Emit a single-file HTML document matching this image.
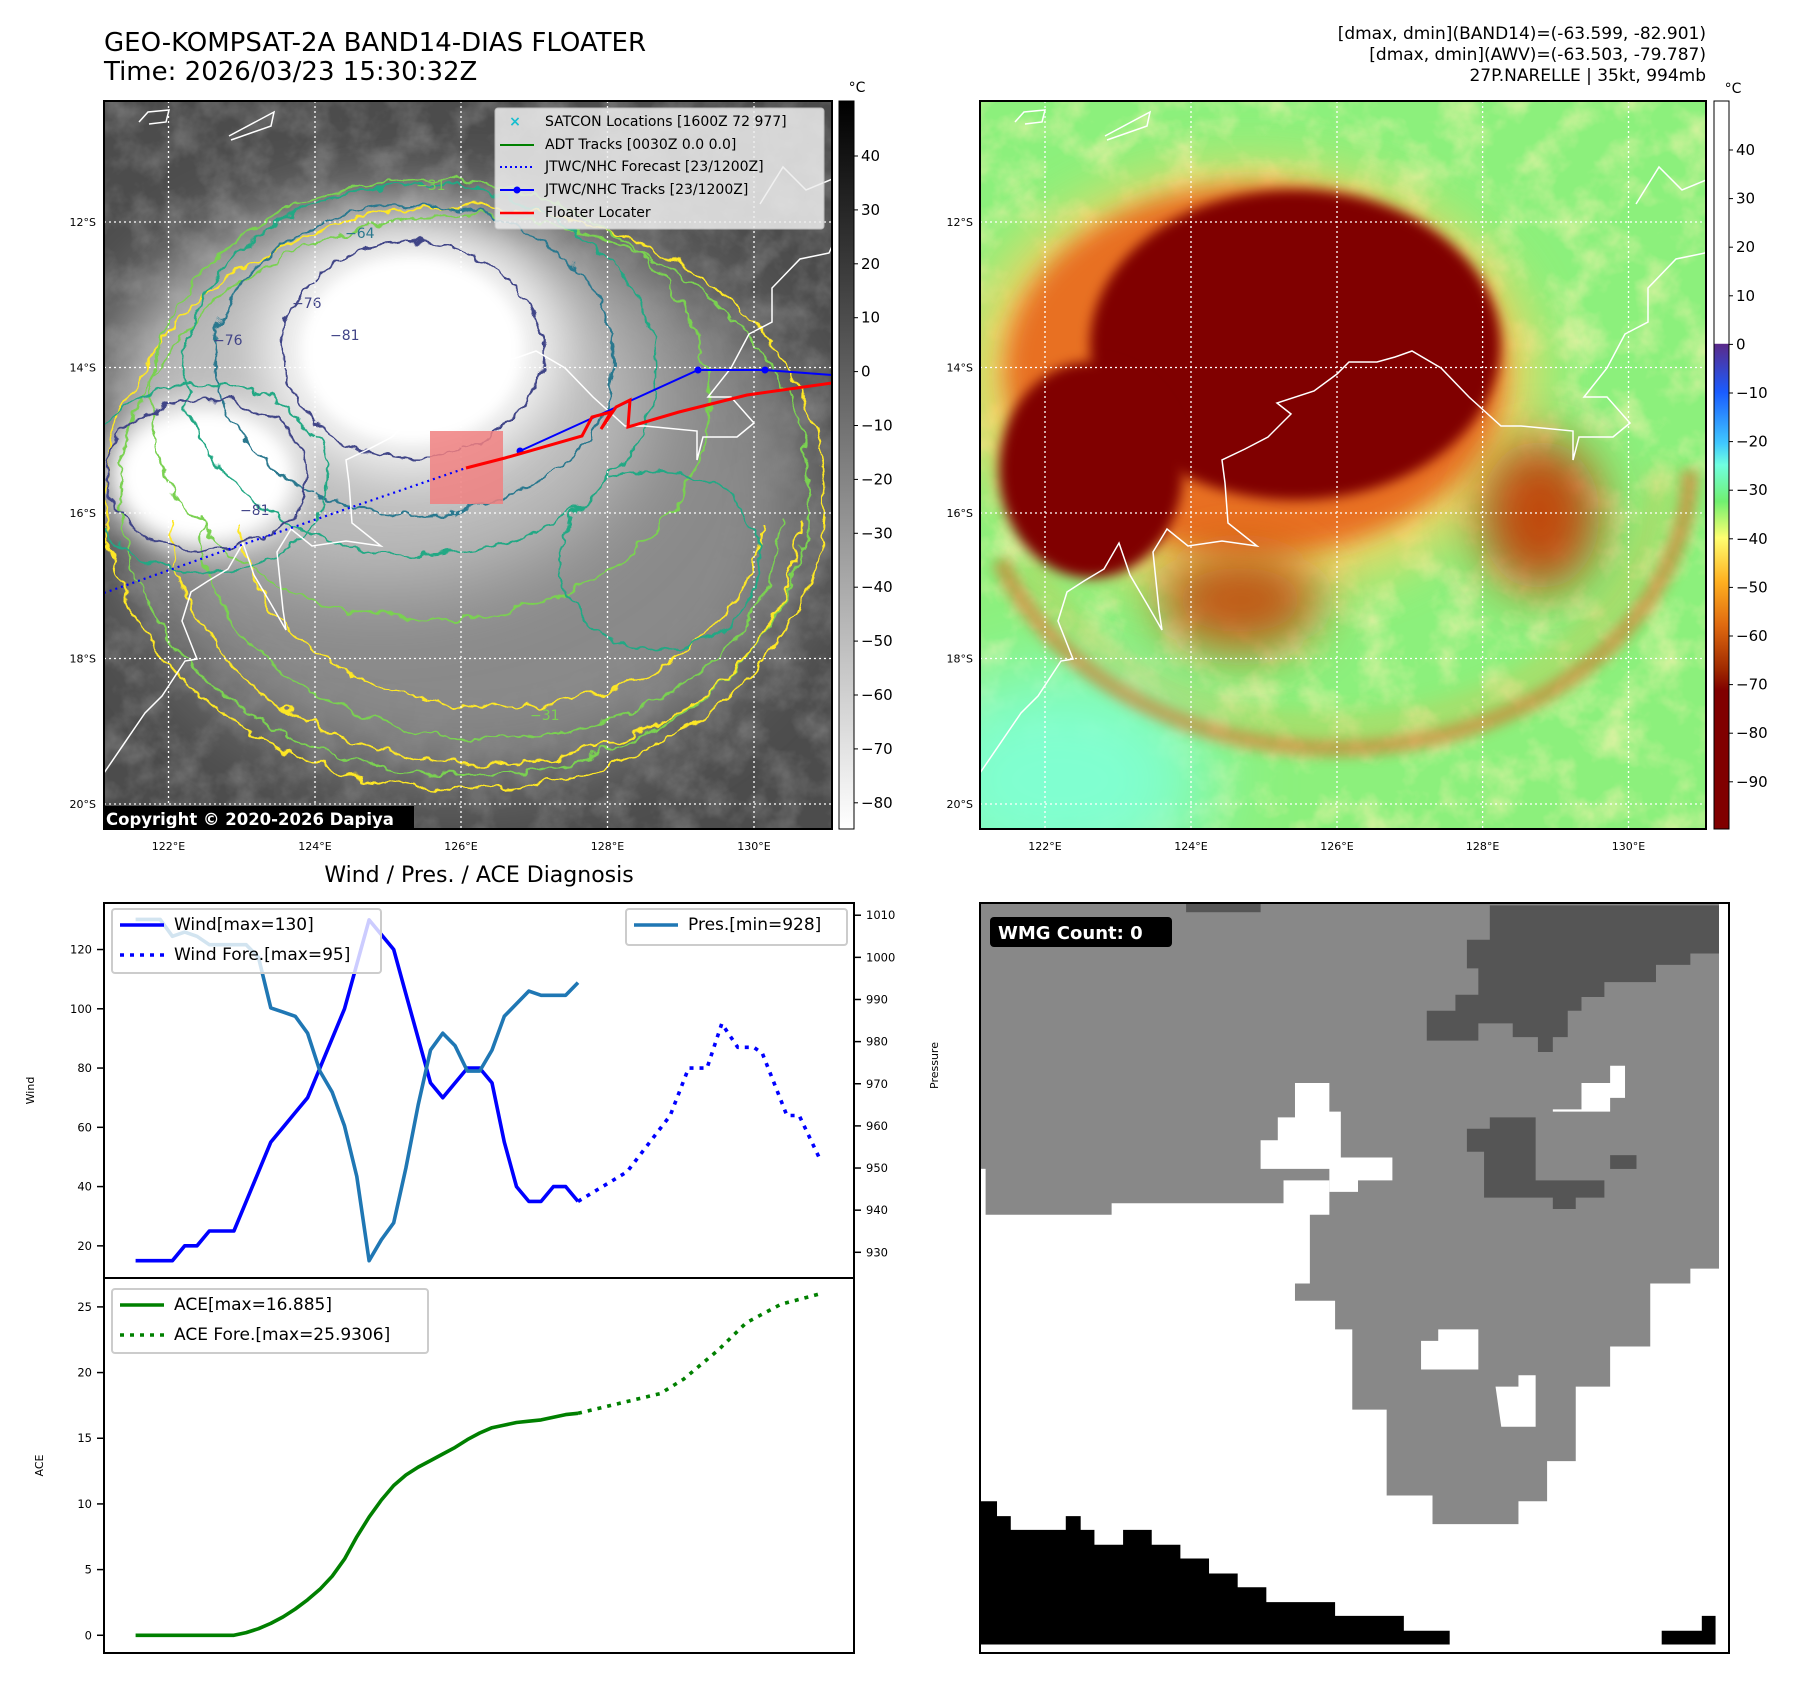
<!DOCTYPE html>
<html><head><meta charset="utf-8">
<style>
html,body{margin:0;padding:0;background:#fff;}
svg{display:block;font-family:"DejaVu Sans","Liberation Sans",sans-serif;}
</style></head>
<body>
<svg id="root" width="1797" height="1690" viewBox="0 0 1797 1690" xmlns="http://www.w3.org/2000/svg">
<defs>
  <clipPath id="clipL"><rect x="104" y="101" width="728" height="728"/></clipPath>
  <clipPath id="clipR"><rect x="980" y="101" width="726" height="728"/></clipPath>
  <filter id="b40" x="-50%" y="-50%" width="200%" height="200%"><feGaussianBlur stdDeviation="40"/></filter>
  <filter id="b25" x="-50%" y="-50%" width="200%" height="200%"><feGaussianBlur stdDeviation="25"/></filter>
  <filter id="b12" x="-50%" y="-50%" width="200%" height="200%"><feGaussianBlur stdDeviation="12"/></filter>
  <filter id="b6" x="-50%" y="-50%" width="200%" height="200%"><feGaussianBlur stdDeviation="6"/></filter>
  <filter id="wig" x="-20%" y="-20%" width="140%" height="140%">
    <feTurbulence type="fractalNoise" baseFrequency="0.045" numOctaves="3" seed="4" result="n"/>
    <feDisplacementMap in="SourceGraphic" in2="n" scale="18" xChannelSelector="R" yChannelSelector="G"/>
  </filter>
  <filter id="noiseG" x="0" y="0" width="100%" height="100%">
    <feTurbulence type="fractalNoise" baseFrequency="0.03" numOctaves="4" seed="2"/>
    <feColorMatrix type="matrix" values="0 0 0 0 1  0 0 0 0 1  0 0 0 0 1  1.2 0 0 0 -0.45"/>
  </filter>
  <filter id="noiseY" x="0" y="0" width="100%" height="100%">
    <feTurbulence type="fractalNoise" baseFrequency="0.025" numOctaves="4" seed="7"/>
    <feColorMatrix type="matrix" values="0 0 0 0 1  0 0 0 0 0.9  0 0 0 0 0.45  1.6 0 0 0 -0.7"/>
  </filter>
  <linearGradient id="grayBar" x1="0" y1="0" x2="0" y2="1">
    <stop offset="0" stop-color="#000"/><stop offset="1" stop-color="#fff"/>
  </linearGradient>
  <linearGradient id="colBar" x1="0" y1="0" x2="0" y2="1">
    <stop offset="0" stop-color="#fff"/><stop offset="0.333" stop-color="#fff"/>
    <stop offset="0.334" stop-color="#5a2a8a"/>
    <stop offset="0.40" stop-color="#1a5cff"/>
    <stop offset="0.47" stop-color="#40c8ff"/>
    <stop offset="0.50" stop-color="#70ffe0"/>
    <stop offset="0.55" stop-color="#70f070"/>
    <stop offset="0.60" stop-color="#ffff70"/>
    <stop offset="0.66" stop-color="#ffb020"/>
    <stop offset="0.72" stop-color="#e06a10"/>
    <stop offset="0.78" stop-color="#a02a00"/>
    <stop offset="0.81" stop-color="#800000"/>
    <stop offset="1" stop-color="#800000"/>
  </linearGradient>
</defs>

<!-- Titles -->
<text x="104" y="51" font-size="26">GEO-KOMPSAT-2A BAND14-DIAS FLOATER</text>
<text x="104" y="80" font-size="26">Time: 2026/03/23 15:30:32Z</text>
<g font-size="17" text-anchor="end">
  <text x="1706" y="39">[dmax, dmin](BAND14)=(-63.599, -82.901)</text>
  <text x="1706" y="60">[dmax, dmin](AWV)=(-63.503, -79.787)</text>
  <text x="1706" y="81">27P.NARELLE | 35kt, 994mb</text>
</g>

<!-- LEFT MAP -->
<g clip-path="url(#clipL)">
  <rect x="104" y="101" width="728" height="728" fill="#4c4c4c"/>
  <rect x="104" y="101" width="728" height="728" filter="url(#noiseG)" opacity="0.35"/>
  <ellipse cx="465" cy="498" rx="345" ry="280" fill="#8a8a8a" filter="url(#b40)"/>
  <ellipse cx="380" cy="400" rx="270" ry="190" fill="#bdbdbd" filter="url(#b40)"/>
  <ellipse cx="412" cy="350" rx="150" ry="125" fill="#f4f4f4" filter="url(#b25)"/>
  <ellipse cx="412" cy="350" rx="110" ry="92" fill="#fff" filter="url(#b6)"/>
  <ellipse cx="206" cy="475" rx="100" ry="78" fill="#eee" filter="url(#b12)"/>
  <ellipse cx="206" cy="475" rx="82" ry="60" fill="#fff" filter="url(#b6)"/>
  <g fill="none" stroke-width="2" filter="url(#wig)">
    <ellipse cx="465" cy="498" rx="360" ry="292" stroke="#fde725"/>
    <ellipse cx="465" cy="495" rx="345" ry="280" stroke="#7ad151"/>
    <path d="M170,520 A310,240 0 0,0 800,520" stroke="#fde725"/>
    <path d="M200,520 A285,215 0 0,0 780,520" stroke="#7ad151"/>
    <path d="M240,520 A250,180 0 0,0 760,520" stroke="#fde725"/>
    <ellipse cx="430" cy="400" rx="280" ry="220" stroke="#7ad151"/>
    <ellipse cx="420" cy="370" rx="235" ry="185" stroke="#22a884"/>
    <ellipse cx="415" cy="360" rx="200" ry="155" stroke="#2a788e"/>
    <ellipse cx="660" cy="560" rx="100" ry="90" stroke="#22a884"/>
    <ellipse cx="206" cy="478" rx="122" ry="95" stroke="#22a884"/>
    <ellipse cx="412" cy="350" rx="130" ry="108" stroke="#414487"/>
    <ellipse cx="206" cy="475" rx="100" ry="76" stroke="#414487"/>
  </g>
  <g font-size="14">
    <text x="345" y="238" fill="#2a788e">−64</text>
    <text x="292" y="308" fill="#414487">−76</text>
    <text x="213" y="345" fill="#414487">−76</text>
    <text x="330" y="340" fill="#414487">−81</text>
    <text x="240" y="515" fill="#414487">−81</text>
    <text x="416" y="190" fill="#7ad151">−31</text>
    <text x="530" y="720" fill="#7ad151">−31</text>
  </g>
  <g transform="translate(-876,0)"><use href="#coast"/></g>
  <g stroke="#fff" stroke-width="1.3" stroke-dasharray="2,3">
    <line x1="168.5" y1="101" x2="168.5" y2="829"/><line x1="315" y1="101" x2="315" y2="829"/><line x1="461" y1="101" x2="461" y2="829"/><line x1="607.5" y1="101" x2="607.5" y2="829"/><line x1="754" y1="101" x2="754" y2="829"/>
    <line x1="104" y1="222" x2="832" y2="222"/><line x1="104" y1="367.5" x2="832" y2="367.5"/><line x1="104" y1="513" x2="832" y2="513"/><line x1="104" y1="658.5" x2="832" y2="658.5"/><line x1="104" y1="804" x2="832" y2="804"/>
  </g>
  <rect x="430" y="431" width="73" height="73" fill="#f08080" opacity="0.85"/>
  <polyline points="104,593 215,554 466,468" fill="none" stroke="#0000ff" stroke-width="2.2" stroke-dasharray="2,4"/>
  <polyline points="520,451 698,370 765,370 832,375" fill="none" stroke="#0000ff" stroke-width="2"/>
  <g fill="#0000ff"><circle cx="520" cy="451" r="3.5"/><circle cx="698" cy="370" r="3.5"/><circle cx="765" cy="370" r="3.5"/></g>
  <polyline points="466,468 505,458 582,436 592,417 611,412 601,429 616,407 630,400 628,427 679,412 747,395 832,383" fill="none" stroke="#ff0000" stroke-width="3"/>
  <rect x="101" y="806" width="313" height="25" fill="#000"/>
  <text x="106" y="825" font-size="16.5" font-weight="bold" fill="#fff">Copyright © 2020-2026 Dapiya</text>
</g>
<rect x="104" y="101" width="728" height="728" fill="none" stroke="#000" stroke-width="2"/>
<g>
  <rect x="495" y="108" width="329" height="121" rx="3" fill="#eee" opacity="0.85" stroke="#ccc"/>
  <text x="515" y="126" font-size="14" fill="#17becf" text-anchor="middle" font-weight="bold">×</text>
  <line x1="500" y1="145" x2="534" y2="145" stroke="#008000" stroke-width="2"/>
  <line x1="500" y1="167" x2="534" y2="167" stroke="#0000ff" stroke-width="2" stroke-dasharray="2,3"/>
  <line x1="500" y1="190" x2="534" y2="190" stroke="#0000ff" stroke-width="2"/><circle cx="517" cy="190" r="3.5" fill="#0000ff"/>
  <line x1="500" y1="213" x2="534" y2="213" stroke="#ff0000" stroke-width="2.5"/>
  <g font-size="14">
    <text x="545" y="126">SATCON Locations [1600Z 72 977]</text>
    <text x="545" y="149">ADT Tracks [0030Z 0.0 0.0]</text>
    <text x="545" y="171">JTWC/NHC Forecast [23/1200Z]</text>
    <text x="545" y="194">JTWC/NHC Tracks [23/1200Z]</text>
    <text x="545" y="217">Floater Locater</text>
  </g>
</g>
<g font-size="11" text-anchor="end">
  <text x="96" y="226">12°S</text><text x="96" y="371.5">14°S</text><text x="96" y="517">16°S</text><text x="96" y="662.5">18°S</text><text x="96" y="808">20°S</text>
</g>
<g font-size="11" text-anchor="middle">
  <text x="168.5" y="850">122°E</text><text x="315" y="850">124°E</text><text x="461" y="850">126°E</text><text x="607.5" y="850">128°E</text><text x="754" y="850">130°E</text>
</g>
<g>
  <rect x="839" y="101" width="15" height="728" fill="url(#grayBar)" stroke="#000" stroke-width="1"/>
  <text x="857" y="92" font-size="14" text-anchor="middle">°C</text>
  <g id="cbL" font-size="15"></g>
</g>

<!-- RIGHT MAP -->
<g clip-path="url(#clipR)">
  <rect x="980" y="101" width="726" height="728" fill="#8cf07c"/>
  <rect x="980" y="101" width="726" height="728" filter="url(#noiseY)" opacity="0.85"/>
  <ellipse cx="1060" cy="780" rx="150" ry="110" fill="#80ffd0" filter="url(#b40)"/>
  <path d="M1000,560 A355,281 0 0,0 1690,470" fill="none" stroke="#d8702a" stroke-width="18" filter="url(#b6)" opacity="0.6"/>
  <path d="M1030,560 A325,255 0 0,0 1660,470" fill="none" stroke="#f0b040" stroke-width="14" filter="url(#b12)" opacity="0.5"/>
  <ellipse cx="1250" cy="380" rx="290" ry="215" fill="#ffd060" filter="url(#b25)" opacity="0.8"/>
  <ellipse cx="1255" cy="370" rx="250" ry="185" fill="#e87020" filter="url(#b12)"/>
  <ellipse cx="1540" cy="515" rx="60" ry="75" fill="#c04a10" filter="url(#b25)"/>
  <ellipse cx="1240" cy="600" rx="80" ry="50" fill="#c05a18" filter="url(#b25)"/>
  <ellipse cx="1295" cy="345" rx="205" ry="155" fill="#800000" filter="url(#b6)"/>
  <ellipse cx="1091" cy="470" rx="92" ry="108" fill="#800000" filter="url(#b6)"/>
  <g id="coast" fill="none" stroke="#fff" stroke-width="1.5">
    <polyline points="980,773 1021,713 1038,696 1061,661 1073,659 1058,621 1067,592 1084,581 1104,569 1119,543 1130,575 1147,604 1162,630 1159,610 1153,552 1167,529 1188,546 1222,541 1257,546 1228,523 1225,483 1222,460 1245,449 1268,437 1291,414 1277,403 1314,391 1337,374 1349,362 1377,362 1395,357 1412,351 1441,368 1469,397 1501,426 1521,426 1573,431 1573,460 1579,437 1613,437 1630,423 1607,397 1584,397 1607,368 1625,334 1648,322 1648,288 1676,259 1705,253 1710,242"/>
    <polyline points="1636,204 1659,167 1682,190 1711,178"/>
    <polyline points="1015,122 1024,112 1045,110 1042,122 1025,124"/>
    <polyline points="1107,140 1147,126 1150,112 1105,136"/>
  </g>
  <g stroke="#fff" stroke-width="1.3" stroke-dasharray="2,3">
    <line x1="1045" y1="101" x2="1045" y2="829"/><line x1="1191" y1="101" x2="1191" y2="829"/><line x1="1337" y1="101" x2="1337" y2="829"/><line x1="1482.6" y1="101" x2="1482.6" y2="829"/><line x1="1628.5" y1="101" x2="1628.5" y2="829"/>
    <line x1="980" y1="222" x2="1706" y2="222"/><line x1="980" y1="367.5" x2="1706" y2="367.5"/><line x1="980" y1="513" x2="1706" y2="513"/><line x1="980" y1="658.5" x2="1706" y2="658.5"/><line x1="980" y1="804" x2="1706" y2="804"/>
  </g>
</g>
<rect x="980" y="101" width="726" height="728" fill="none" stroke="#000" stroke-width="2"/>
<g font-size="11" text-anchor="end">
  <text x="973" y="226">12°S</text><text x="973" y="371.5">14°S</text><text x="973" y="517">16°S</text><text x="973" y="662.5">18°S</text><text x="973" y="808">20°S</text>
</g>
<g font-size="11" text-anchor="middle">
  <text x="1045" y="850">122°E</text><text x="1191" y="850">124°E</text><text x="1337" y="850">126°E</text><text x="1482.6" y="850">128°E</text><text x="1628.5" y="850">130°E</text>
</g>
<g>
  <rect x="1714" y="101" width="15" height="728" fill="url(#colBar)" stroke="#000" stroke-width="1"/>
  <text x="1733" y="93" font-size="14" text-anchor="middle">°C</text>
  <g id="cbR" font-size="15"></g>
</g>

<!-- BOTTOM RIGHT PANEL -->
<g>
  <rect x="980" y="903" width="749" height="750" fill="#fff"/>
  <g transform="scale(1.146)">
    <polygon fill="#888" points="855,788 1500,788 1500,1107 1475,1107 1475,1120 1440,1120 1440,1175 1405,1175 1405,1210 1375,1210 1375,1275 1350,1275 1350,1310 1325,1310 1325,1330 1250,1330 1250,1305 1210,1305 1210,1230 1180,1230 1180,1160 1165,1160 1165,1135 1130,1135 1130,1120 1143,1120 1143,1060 1160,1060 1160,1030 1120,1030 1120,1050 970,1050 970,1060 860,1060 860,1020 855,1020"/>
    <g fill="#fff">
      <polygon points="1100,1020 1100,995 1115,995 1115,975 1130,975 1130,945 1160,945 1160,970 1170,970 1170,1010 1215,1010 1215,1030 1185,1030 1185,1040 1160,1040 1160,1020"/>
      <polygon points="1355,968 1380,968 1380,945 1405,945 1405,930 1418,930 1418,958 1405,958 1405,970 1355,970"/>
      <polygon points="1240,1170 1255,1170 1255,1160 1290,1160 1290,1195 1240,1195"/>
      <polygon points="1305,1210 1325,1210 1325,1200 1340,1200 1340,1245 1310,1245"/>
      <rect x="855" y="1020" width="5" height="40"/>
    </g>
    <g fill="#555">
      <polygon points="1280,820 1300,820 1300,790 1500,790 1500,832 1475,832 1475,842 1445,842 1445,857 1400,857 1400,870 1380,870 1380,882 1368,882 1368,905 1355,905 1355,918 1342,918 1342,905 1320,905 1320,893 1290,893 1290,908 1245,908 1245,882 1270,882 1270,868 1290,868 1290,845 1280,845"/>
      <polygon points="1280,985 1300,985 1300,975 1340,975 1340,1030 1400,1030 1400,1045 1375,1045 1375,1055 1355,1055 1355,1045 1295,1045 1295,1005 1280,1005"/>
      <rect x="1405" y="1008" width="23" height="12"/>
      <rect x="1035" y="788" width="65" height="8"/>
    </g>
    <g fill="#000">
      <polygon points="855,1310 870,1310 870,1323 882,1323 882,1335 930,1335 930,1323 943,1323 943,1335 955,1335 955,1348 980,1348 980,1335 1005,1335 1005,1348 1030,1348 1030,1360 1055,1360 1055,1373 1080,1373 1080,1385 1105,1385 1105,1398 1165,1398 1165,1410 1225,1410 1225,1423 1265,1423 1265,1435 855,1435"/>
      <polygon points="1450,1423 1485,1423 1485,1410 1497,1410 1497,1435 1450,1435"/>
    </g>
  </g>
  <rect x="980" y="903" width="749" height="750" fill="none" stroke="#000" stroke-width="2"/>
  <rect x="990" y="917" width="182" height="30" rx="4" fill="#000"/>
  <text x="998" y="939" font-size="18" font-weight="bold" fill="#fff">WMG Count: 0</text>
</g>

<!-- BOTTOM LEFT CHART -->
<text x="479" y="882" font-size="22" text-anchor="middle">Wind / Pres. / ACE Diagnosis</text>
<g id="chart"></g>
</svg>

<script>
// ---- chart data ----
const windIdx = [0,1,2,3,4,5,6,7,8,9,10,11,12,13,14,15,16,17,18,19,20,21,22,23,24,25,26,27,28,29,30,31,32,33,34,35,36];
const windObs = [15,15,15,15,20,20,25,25,25,35,45,55,60,65,70,80,90,100,115,130,125,120,105,90,75,70,75,80,80,75,55,40,35,35,40,40,35];
const presObs = [1009,1009,1009,1005,1006,1005,1003,1003,1003,1003,1000,988,987,986,982,973,968,960,948,928,933,937,950,965,978,982,979,973,973,978,986,989,992,991,991,991,994];
const fcstIdx = [36,40,43.5,45,46.5,47.7,49,50.3,51,53,54,55.6];
const windFcst = [35,45,64,80,80,95,87,87,85,64,64,50];
const aceObs = [0,0,0,0,0,0,0,0,0,0.2,0.5,0.9,1.4,2.0,2.7,3.5,4.5,5.8,7.5,9.0,10.3,11.4,12.2,12.8,13.3,13.8,14.3,14.9,15.4,15.8,16.0,16.2,16.3,16.4,16.6,16.8,16.9];
const aceFcstIdx = [36,40,42.7,44.6,47.4,49.7,52.5,55.7];
const aceFcst = [16.9,17.8,18.4,19.5,21.7,23.8,25.2,26.0];
const windTicks = [20,40,60,80,100,120];
const presTicks = [930,940,950,960,970,980,990,1000,1010];
const aceTicks = [0,5,10,15,20,25];
const grayCbTicks = [40,30,20,10,0,-10,-20,-30,-40,-50,-60,-70,-80];
const colorCbTicks = [40,30,20,10,0,-10,-20,-30,-40,-50,-60,-70,-80,-90];

const NS = "http://www.w3.org/2000/svg";
const L = 104, R = 854, T = 903, M = 1278, B = 1653;
const xMin = -2.57, xMax = 58.46;
function x(i){ return L + (i - xMin) / (xMax - xMin) * (R - L); }
function yW(v){ return T + (135.7 - v) / (135.7 - 9.15) * (M - T); }
function yP(v){ return T + (1012.9 - v) / (1012.9 - 923.9) * (M - T); }
function yA(v){ return M + (27.2 - v) / (27.2 + 1.35) * (B - M); }
function mk(tag, attrs, parent){
  const e = document.createElementNS(NS, tag);
  for (const k in attrs) e.setAttribute(k, attrs[k]);
  parent.appendChild(e); return e;
}
const chart = document.getElementById('chart');
function line(xs, ys, fx, fy, color, dash, name){
  const pts = xs.map((v, k) => fx(v).toFixed(1) + ',' + fy(ys[k]).toFixed(1)).join(' ');
  const p = mk('polyline', {points: pts, fill: 'none', stroke: color, 'stroke-width': 3.6, 'stroke-linejoin': 'round'}, chart);
  if (dash) p.setAttribute('stroke-dasharray', dash);
  
  
}
line(windIdx, windObs, x, yW, '#0000ff', null, 'wind-line');
line(fcstIdx, windFcst, x, yW, '#0000ff', '4,6', 'wind-forecast-line');
line(windIdx, presObs, x, yP, '#1f77b4', null, 'pressure-line');
line(windIdx, aceObs, x, yA, '#008000', null, 'ace-line');
line(aceFcstIdx, aceFcst, x, yA, '#008000', '4,6', 'ace-forecast-line');

const f1 = mk('rect', {x: L, y: T, width: R - L, height: M - T, fill: 'none', stroke: '#000', 'stroke-width': 2}, chart);


const f2 = mk('rect', {x: L, y: M, width: R - L, height: B - M, fill: 'none', stroke: '#000', 'stroke-width': 2}, chart);



function ticks(vals, fy, side, name){
  vals.forEach(v => {
    const yy = fy(v);
    if (side === 'left'){
      mk('line', {x1: L - 7, y1: yy, x2: L, y2: yy, stroke: '#000', 'stroke-width': 1.5}, chart);
      const t = mk('text', {x: L - 12, y: yy + 4, 'font-size': 11.5, 'text-anchor': 'end'}, chart);
      t.textContent = v;
      
      
    } else {
      mk('line', {x1: R, y1: yy, x2: R + 7, y2: yy, stroke: '#000', 'stroke-width': 1.5}, chart);
      const t = mk('text', {x: R + 12, y: yy + 4, 'font-size': 11.5}, chart);
      t.textContent = v;
      
      
    }
  });
}
ticks(windTicks, yW, 'left', 'wind-tick-label');
ticks(presTicks, yP, 'right', 'pressure-tick-label');
ticks(aceTicks, yA, 'left', 'ace-tick-label');

function vlabel(txt, xx, yy, name){
  const t = mk('text', {x: xx, y: yy, 'font-size': 11, 'text-anchor': 'middle', transform: 'rotate(-90 ' + xx + ' ' + yy + ')'}, chart);
  t.textContent = txt;
  
  
}
vlabel('Wind', 34, (T + M) / 2, 'wind-axis-title');
vlabel('Pressure', 938, (T + M) / 2 - 25, 'pressure-axis-title');
vlabel('ACE', 43, (M + B) / 2, 'ace-axis-title');

function legend(bx, by, bw, bh, entries, name){
  const g = mk('g', {}, chart);
  
  
  mk('rect', {x: bx, y: by, width: bw, height: bh, rx: 3, fill: '#fff', 'fill-opacity': 0.8, stroke: '#ccc', 'stroke-width': 2}, g);
  entries.forEach((e, k) => {
    const yy = by + 21 + k * 30;
    const ln = mk('line', {x1: bx + 8, y1: yy - 5, x2: bx + 52, y2: yy - 5, stroke: e[1], 'stroke-width': 3.6}, g);
    if (e[2]) ln.setAttribute('stroke-dasharray', '4,6');
    const t = mk('text', {x: bx + 62, y: yy, 'font-size': 17}, g);
    t.textContent = e[0];
  });
}
legend(112, 909, 269, 64, [['Wind[max=130]', '#0000ff', false], ['Wind Fore.[max=95]', '#0000ff', true]], 'wind-legend');
legend(626, 909, 221, 36, [['Pres.[min=928]', '#1f77b4', false]], 'pressure-legend');
legend(112, 1289, 316, 64, [['ACE[max=16.885]', '#008000', false], ['ACE Fore.[max=25.9306]', '#008000', true]], 'ace-legend');

const cbL = document.getElementById('cbL');
grayCbTicks.forEach(v => {
  const yy = 156 + (40 - v) * 5.39;
  mk('line', {x1: 854, y1: yy, x2: 858, y2: yy, stroke: '#000'}, cbL);
  const t = mk('text', {x: 861, y: yy + 5}, cbL);
  t.textContent = v < 0 ? '\u2212' + (-v) : v;
  
  
});
const cbR = document.getElementById('cbR');
colorCbTicks.forEach(v => {
  const yy = 150 + (40 - v) * 4.86;
  mk('line', {x1: 1729, y1: yy, x2: 1733, y2: yy, stroke: '#000'}, cbR);
  const t = mk('text', {x: 1736, y: yy + 5}, cbR);
  t.textContent = v < 0 ? '\u2212' + (-v) : v;
  
  
});
</script>
</body></html>
